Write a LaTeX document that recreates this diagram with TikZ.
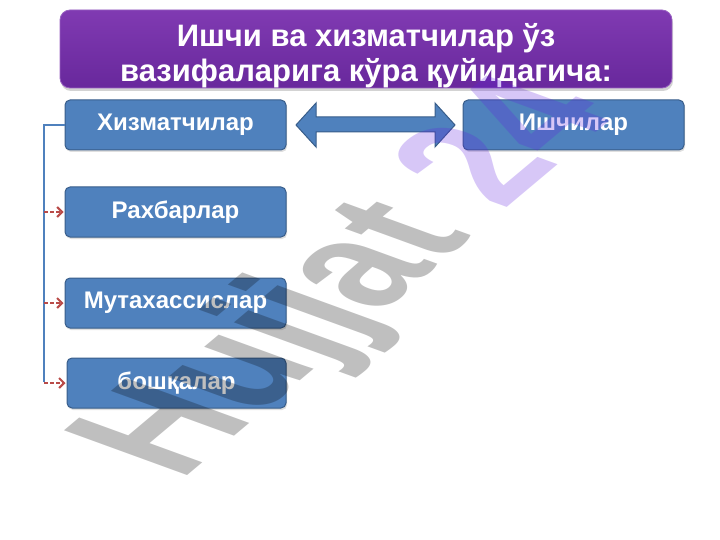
\documentclass[tikz,border=0pt]{standalone}
\usepackage{fontspec}
\setmainfont{Liberation Sans}
\usetikzlibrary{positioning,shadows,arrows.meta}

\definecolor{boxblue}{RGB}{79,129,189}
\definecolor{boxline}{RGB}{56,93,138}
\definecolor{titletop}{RGB}{128,58,178}
\definecolor{titlebot}{RGB}{104,40,156}
\definecolor{arrred}{RGB}{185,75,72}
\definecolor{wmpurple}{RGB}{96,32,224}

\begin{document}
\begin{tikzpicture}[x=1pt,y=-1pt,>={Straight Barb[length=5pt,width=10pt]},node distance=36pt,
    title/.style={rectangle,rounded corners=10pt,minimum width=612pt,minimum height=78pt,inner ysep=0pt,top color=titletop,bottom color=titlebot,draw=titletop!80!white,line width=0.8pt,text=white,align=center,font=\bfseries\fontsize{31}{35}\selectfont,drop shadow={opacity=0.35,shadow xshift=1pt,shadow yshift=-3pt}},
    box/.style={rectangle,rounded corners=5pt,draw=boxline,line width=1pt,fill=boxblue,text=white,font=\bfseries\fontsize{24}{27}\selectfont,minimum width=221pt,minimum height=50pt,drop shadow={opacity=0.25,shadow xshift=1pt,shadow yshift=-2pt}},
    rail/.style={draw=boxblue,line width=2.5pt},
    pointer/.style={->,color=arrred,line width=2pt,dash pattern=on 4pt off 2pt,shorten >=1pt},
    dbl/.style={fill=boxblue,draw=boxline,line width=1pt}]
    \useasboundingbox (0,0) rectangle (720,540);

    \node[title] (0) at (366,49) {\rule{0pt}{36pt}Ишчи ва хизматчилар ўз\\вазифаларига кўра қуйидагича:};

    \node[box] (1) at (175.5,125) {Хизматчилар};
    \node[box] (2) [below=36pt of 1] {Рахбарлар};
    \node[box] (3) [below=40pt of 2] {Мутахассислар};
    \node[box,minimum width=219pt] (4) [below=29pt of 3,xshift=1pt] {бошқалар};
    \node[box] (5) [right=176pt of 1] {Ишчилар};

    % two-way arrow between the groups
    \draw[dbl] (296,125) -- (316,103) -- (316,117) -- (435,117) -- (435,103) -- (455,125)
        -- (435,147) -- (435,132) -- (316,132) -- (316,147) -- cycle;

    \coordinate (r) at (44,382);
    \draw[rail] (1.west) -| (r);
    \path[pointer]
        (r |- 2.west) edge (2.west)
        (r |- 3.west) edge (3.west)
        (r |- 4.west) edge (4.west)
        ;

    % watermark
    \begin{scope}[shift={(180,482)},cm={0.766,0.643,-1.297,0.472,(0,0)}]
        \node[transform shape,anchor=base west,inner sep=0pt,text opacity=0.25,font=\bfseries\fontsize{138}{138}\selectfont] (w) at (0,0) {Hujjat {\color{wmpurple}24}};
    \end{scope}
\end{tikzpicture}
\end{document}
